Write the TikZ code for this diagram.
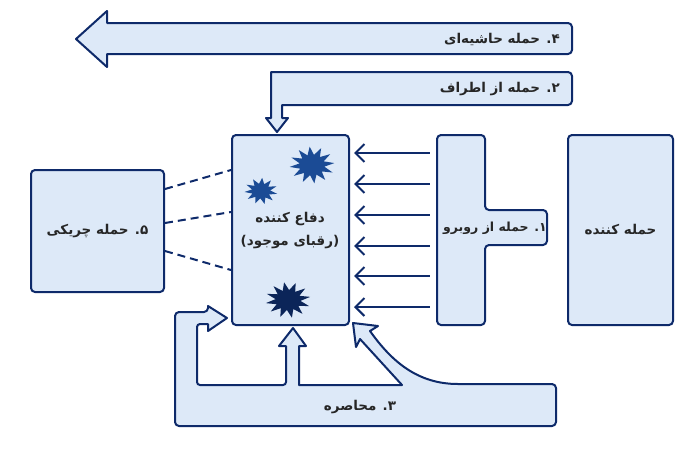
\documentclass[tikz,border=0pt]{standalone}
\usepackage{fontspec}
\newfontfamily\fa[Script=Arabic]{DejaVu Sans}
\TeXXeTstate=1
\usetikzlibrary{arrows.meta,shapes.geometric}
\definecolor{edge}{HTML}{0E2A6A}
\definecolor{fillb}{HTML}{DDE9F8}
\definecolor{starA}{HTML}{1B4B95}
\definecolor{starB}{HTML}{0B2559}
\begin{document}
\begin{tikzpicture}[x=1pt,y=-1pt,
  box/.style={draw=edge, fill=fillb, line width=2pt, rounded corners=4pt, inner sep=0pt},
  shapeln/.style={draw=edge, fill=fillb, line width=2pt, line join=round},
  lbl/.style={font=\fa\bfseries\fontsize{13.5}{23}\selectfont, inner sep=0pt, align=center, text=black!85},
  hit/.style={star, star points=12, star point ratio=1.8, inner sep=0pt, transform shape},
  frontarr/.style={draw=edge, line width=2pt, -{Straight Barb[length=9pt,width=18pt,line width=2pt]}},
  guerline/.style={draw=edge, line width=2pt, dash pattern=on 8pt off 5pt}
]
\useasboundingbox (0,0) rectangle (700,450);

% 4. bypass attack
\path[shapeln] (300,23) [rounded corners=4pt] -- (572,23) -- (572,54) -- (300,54) [sharp corners] -- (107,54) -- (107,67) -- (76,39) -- (107,11) -- (107,23) -- cycle;
\node[lbl, anchor=east] (bypass) at (560,39) {\beginR ۴. حمله حاشیه‌ای\endR};

% 2. flank attack
\path[shapeln] (400,72) [rounded corners=4pt] -- (572,72) -- (572,105) -- (400,105) [sharp corners] -- (282,105) -- (282,118) -- (288,118) -- (277,132) -- (266,118) -- (271,118) -- (271,72) -- cycle;
\node[lbl, anchor=east] (flank) at (560,89) {\beginR ۲. حمله از اطراف\endR};

% 3. encirclement
\path[shapeln] (365,426) [rounded corners=4pt] -- (175,426) -- (175,312) -- (208,312) [sharp corners] -- (208,306) -- (227,318) -- (208,331) -- (208,324) [rounded corners=3pt] -- (197,324) -- (197,385) -- (286,385) [sharp corners] -- (286,346) -- (279,346) -- (293,328) -- (306,346) -- (299,346) -- (299,385) -- (402,385) -- (360,339) -- (356,347) -- (353,323) -- (378,326) -- (370,331) .. controls (392,362) and (418,384) .. (458,384) [rounded corners=4pt] -- (556,384) -- (556,426) -- cycle;
\node[lbl] (encl) at (360,407) {\beginR ۳. محاصره\endR};

% defender
\node[box, minimum width=117pt, minimum height=190pt] (def) at (290.5,230) {};
\node[lbl] (deftxt) at (290,231) {\beginR دفاع کننده\endR\\\beginR (رقبای موجود)\endR};
\begin{scope}[shift={(312,165)}, yscale=0.82]
  \node[hit, fill=starA, minimum size=45pt, rotate=6] (s1) at (0,0) {};
\end{scope}
\begin{scope}[shift={(261,191)}, yscale=0.8]
  \node[hit, fill=starA, minimum size=33pt, star points=11, rotate=-4] (s2) at (0,0) {};
\end{scope}
\begin{scope}[shift={(288,300)}, yscale=0.8]
  \node[hit, fill=starB, minimum size=45pt, rotate=10] (s3) at (0,0) {};
\end{scope}

% 1. frontal attack
\node[minimum width=48pt, minimum height=190pt, inner sep=0pt] (front) at (461,230) {};
\path[shapeln, rounded corners=4pt] (437,135) -- (485,135) -- (485,210) -- (547,210) -- (547,245) -- (485,245) -- (485,325) -- (437,325) -- cycle;
\node[lbl, font=\fa\bfseries\fontsize{12.5}{16}\selectfont] (frontlbl) at (495,228) {\beginR ۱. حمله از روبرو\endR};
\foreach \yy in {153,184,215,246,276,307}
  \draw[frontarr, shorten <=7pt, shorten >=4pt] (front.west |- 0,\yy) -- (def.east |- 0,\yy);

% attacker
\node[box, lbl, minimum width=105pt, minimum height=190pt] (att) at (620.5,230) {\beginR حمله کننده\endR};

% 5. guerrilla
\node[box, lbl, minimum width=133pt, minimum height=122pt] (guer) at (97.5,231) {\beginR ۵. حمله چریکی\endR};
\draw[guerline] (guer.east |- 0,189) -- (def.west |- 0,170);
\draw[guerline] (guer.east |- 0,223) -- (def.west |- 0,212);
\draw[guerline] (guer.east |- 0,251) -- (def.west |- 0,270);
\end{tikzpicture}
\end{document}
